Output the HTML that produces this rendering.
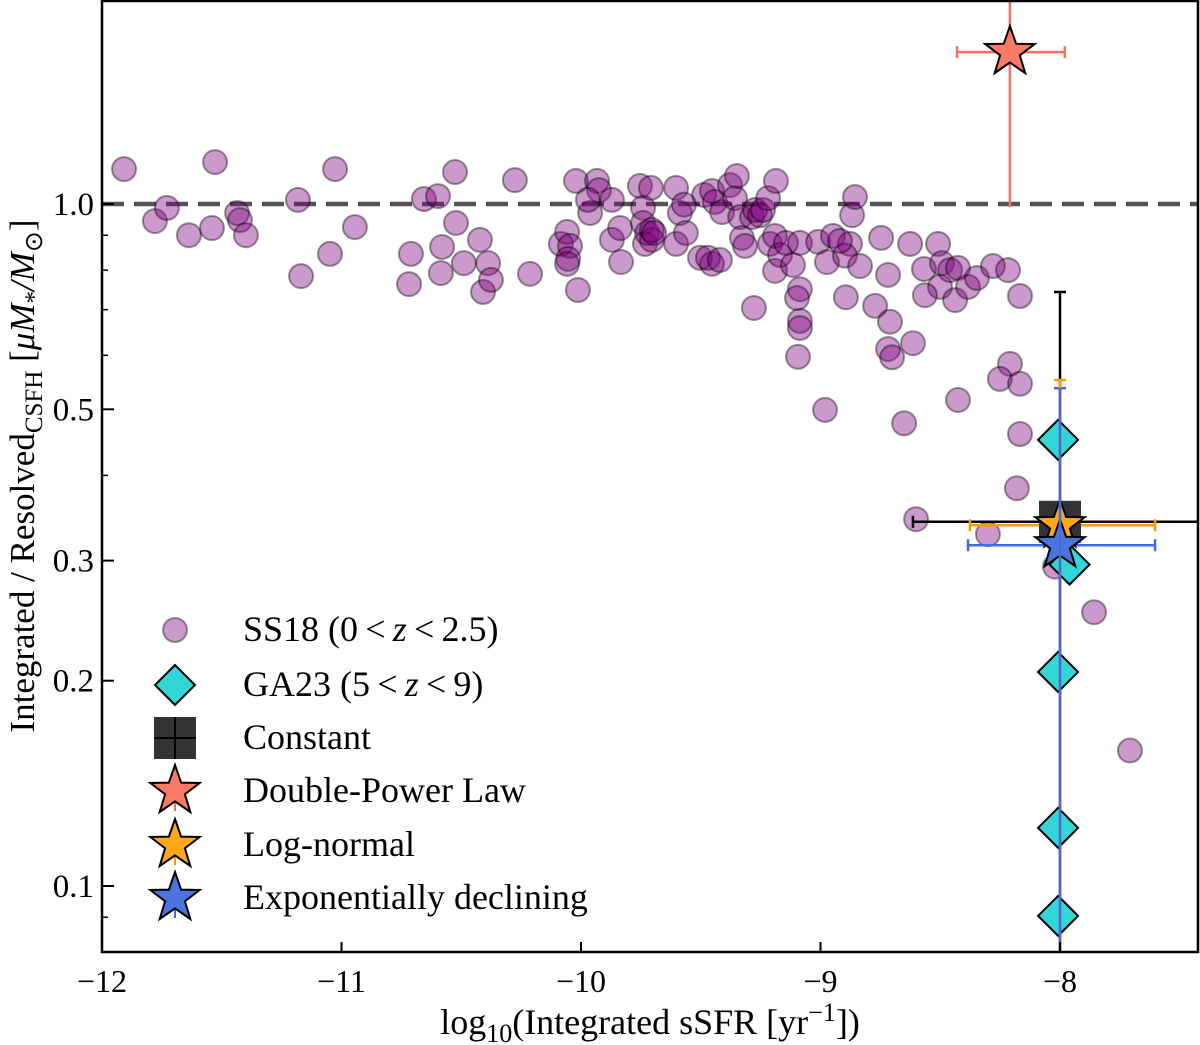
<!DOCTYPE html>
<html><head><meta charset="utf-8">
<style>
body{margin:0;background:#fff;}
svg{display:block;font-family:"Liberation Serif",serif;}
</style></head>
<body>
<svg id="chart" width="1200" height="1045" xmlns="http://www.w3.org/2000/svg"></svg>
<script>
const ss18X=[-11.908,-11.779,-11.729,-11.637,-11.528,-11.541,-11.436,-11.424,-11.399,-11.169,-11.182,-11.048,-11.027,-10.944,-10.718,-10.710,-10.656,-10.597,-10.580,-10.585,-10.522,-10.526,-10.489,-10.422,-10.388,-10.409,-10.376,-10.276,-10.213,-10.021,-10.013,-10.084,-10.058,-10.046,-10.054,-10.058,-9.962,-9.933,-9.925,-9.971,-9.871,-9.871,-9.837,-9.754,-9.741,-9.741,-9.733,-9.724,-9.833,-9.708,-9.704,-9.704,-9.695,-9.603,-9.603,-9.587,-9.570,-9.562,-9.503,-9.486,-9.453,-9.453,-9.470,-9.441,-9.411,-9.378,-9.357,-9.349,-9.336,-9.328,-9.315,-9.286,-9.278,-9.273,-9.253,-9.240,-9.219,-9.190,-9.186,-9.211,-9.190,-9.169,-9.144,-9.115,-9.086,-9.086,-9.098,-9.086,-9.086,-9.094,-9.010,-8.973,-8.948,-8.877,-8.898,-8.919,-8.894,-8.868,-8.856,-8.835,-8.772,-8.747,-8.718,-8.710,-8.718,-8.701,-8.626,-8.614,-8.651,-8.981,-8.568,-8.509,-8.493,-8.501,-8.459,-8.438,-8.426,-8.384,-8.347,-8.280,-8.217,-8.167,-8.209,-8.251,-8.167,-8.426,-8.167,-8.180,-8.601,-8.301,-8.021,-7.858,-7.708,-8.564,-9.420];
const ss18Y=[1.125,0.944,0.987,0.90,1.152,0.922,0.970,0.947,0.90,0.784,1.014,0.845,1.125,0.925,0.763,0.845,1.017,1.027,0.865,0.792,0.938,1.114,0.819,0.886,0.819,0.743,0.774,1.084,0.79,1.081,0.748,0.874,0.91,0.868,0.831,0.817,0.970,1.081,1.048,1.014,1.014,0.886,0.922,1.063,0.987,0.938,0.874,0.907,0.822,1.056,0.886,0.916,0.907,1.056,0.874,0.970,0.998,0.907,0.834,1.031,1.045,0.817,0.834,1.007,0.973,1.066,1.020,1.099,0.957,0.892,0.868,0.957,0.704,0.980,0.963,0.980,1.020,0.798,1.081,0.874,0.898,0.842,0.877,0.814,0.877,0.75,0.728,0.674,0.658,0.597,0.88,0.822,0.898,0.874,0.84,0.883,0.73,0.963,1.024,0.811,0.709,0.892,0.787,0.672,0.613,0.596,0.874,0.625,0.477,0.499,0.803,0.874,0.819,0.756,0.80,0.723,0.806,0.756,0.779,0.811,0.80,0.733,0.583,0.554,0.545,0.516,0.46,0.383,0.345,0.328,0.294,0.252,0.158,0.735,0.828];
const ga23X=[-8.008,-7.96,-8.008,-8.008,-8.008];
const ga23Y=[0.451,0.296,0.206,0.1217,0.0904];
const fitNames=["Constant","Double-Power Law","Log-normal","Exponentially declining"];
const fitX=[-8.0,-8.209,-8.0,-8.0];
const fitY=[0.342,1.67,0.338,0.316];
const fitXLo=[-8.614,-8.43,-8.376,-8.384];
const fitXHi=[-6.8,-7.98,-7.603,-7.603];
const fitYLo=[0.05,0.99,0.05,0.05];
const fitYHi=[0.743,2.5,0.552,0.537];
const xTicks=[-12,-11,-10,-9,-8];
const yTicks=[1.0,0.5,0.3,0.2,0.1];
const yTickLabels=["1.0","0.5","0.3","0.2","0.1"];
const yMinor=[0.09,0.4,0.6,0.7,0.8,0.9,2];

const L=102,R=1198,T=0,B=952;
const X=v=>102+(v+12)*239.5;
const Y=v=>204-Math.log10(v)*682;
const svg=document.getElementById('chart');
const NS="http://www.w3.org/2000/svg";
function mk(tag,attrs,parent){const e=document.createElementNS(NS,tag);for(const k in attrs)e.setAttribute(k,attrs[k]);(parent||svg).appendChild(e);return e;}
const defs=mk('defs',{});
const cp=mk('clipPath',{id:'clip'},defs);mk('rect',{x:L,y:T,width:R-L,height:B-T},cp);
const plot=mk('g',{'clip-path':'url(#clip)'});


const ref=mk('line',{x1:L,x2:R,y1:Y(1),y2:Y(1),stroke:'#555',"stroke-width":4.5,"stroke-dasharray":"22,10"},plot);


for(let i=0;i<ss18X.length;i++){
 const c=mk('circle',{cx:X(ss18X[i]),cy:Y(ss18Y[i]),r:12,fill:'rgba(128,0,128,0.4)',stroke:'rgba(0,0,0,0.4)','stroke-width':2},plot);
 
}
function starPath(cx,cy,ro){const ri=ro*0.4;let d='';for(let k=0;k<10;k++){const r=k%2?ri:ro;const a=-Math.PI/2+k*Math.PI/5;d+=(k?'L':'M')+(cx+r*Math.cos(a)).toFixed(1)+','+(cy+r*Math.sin(a)).toFixed(1);}return d+'Z';}
const fitColors=['#000','#fa6e5a','#ff9a00','#4169e1'];
const fitFill=['#333','#fa7a66','#ffa815','#4a74e0'];
const fitSlug=['constant','double-power-law','log-normal','exponentially-declining'];
function errbar(i,g){
 const col=fitColors[i],cx=X(fitX[i]),cy=Y(fitY[i]);
 const yl=Y(fitYLo[i]),yh=Y(fitYHi[i]),xl=X(fitXLo[i]),xh=X(fitXHi[i]);
 mk('line',{x1:cx,x2:cx,y1:yl,y2:yh,stroke:col,'stroke-width':2.5},g);
 mk('line',{x1:xl,x2:xh,y1:cy,y2:cy,stroke:col,'stroke-width':2.5},g);
 mk('line',{x1:cx-6,x2:cx+6,y1:yh,y2:yh,stroke:col,'stroke-width':2.5},g);
 mk('line',{x1:xl,x2:xl,y1:cy-6,y2:cy+6,stroke:col,'stroke-width':2.5},g);
 mk('line',{x1:xh,x2:xh,y1:cy-6,y2:cy+6,stroke:col,'stroke-width':2.5},g);
}
const errG=[];
for(let i=0;i<4;i++){const g=mk('g',{},plot);errG.push(g);}
errbar(0,errG[0]);errbar(1,errG[1]);
for(let i=0;i<ga23X.length;i++){
 const cx=X(ga23X[i]),cy=Y(ga23Y[i]),s=20;
 const d=mk('path',{d:`M${cx},${cy-s}L${cx+s},${cy}L${cx},${cy+s}L${cx-s},${cy}Z`,fill:'#33d6d6',stroke:'#000','stroke-width':2},plot);
 
}
errbar(2,errG[2]);errbar(3,errG[3]);
{const cx=X(fitX[0]),cy=Y(fitY[0]);const m=mk('rect',{x:cx-21,y:cy-21,width:42,height:42,fill:'#333'},plot);}
for(let i=1;i<4;i++){const m=mk('path',{d:starPath(X(fitX[i]),Y(fitY[i]),26),fill:fitFill[i],stroke:'#000','stroke-width':2},plot);}
mk('line',{x1:X(fitX[2]),x2:X(fitX[2]),y1:Y(fitYLo[2]),y2:Y(fitYHi[2]),stroke:fitColors[2],'stroke-width':2.5},plot);
mk('line',{x1:X(fitX[3]),x2:X(fitX[3]),y1:Y(fitYLo[3]),y2:Y(fitYHi[3]),stroke:fitColors[3],'stroke-width':2.5},plot);

const frame=mk('rect',{x:L,y:T+1,width:R-L,height:B-T-1,fill:'none',stroke:'#000','stroke-width':2.5});

const xa=mk('g',{});
xTicks.forEach(t=>{const x=X(t);mk('line',{x1:x,x2:x,y1:B,y2:B-10,stroke:'#000','stroke-width':2},xa);
 const tx=mk('text',{x:x,y:B+40,'font-size':32,'text-anchor':'middle'},xa);tx.textContent='\u2212'+Math.abs(t);
 });
const ya=mk('g',{});
yTicks.forEach((t,i)=>{const y=Y(t);mk('line',{x1:L,x2:L+12,y1:y,y2:y,stroke:'#000','stroke-width':2},ya);
 const tx=mk('text',{x:L-8,y:y+11,'font-size':33,'text-anchor':'end'},ya);tx.textContent=yTickLabels[i];
 });
yMinor.forEach(t=>{const y=Y(t);if(y>T&&y<B)mk('line',{x1:L,x2:L+6,y1:y,y2:y,stroke:'#000','stroke-width':1.5},ya);});
const xt=mk('text',{x:650,y:1034,'font-size':36,'text-anchor':'middle'});
xt.innerHTML='log<tspan font-size="26" dy="8">10</tspan><tspan dy="-8">(Integrated sSFR [yr</tspan><tspan font-size="26" dy="-13">\u22121</tspan><tspan dy="13">])</tspan>';

const yt=mk('text',{transform:'translate(34,476) rotate(-90)','font-size':35,'text-anchor':'middle'});
yt.innerHTML='Integrated / Resolved<tspan font-size="25" dy="8">CSFH</tspan><tspan dy="-8"> [</tspan><tspan font-style="italic">\u03bcM</tspan><tspan font-size="25" dy="8">*</tspan><tspan dy="-8" font-style="italic">/M</tspan><tspan font-size="25" dy="8">\u2299</tspan><tspan dy="-8">]</tspan>';


const lg=mk('g',{});
const rows=[630,685,738,791,845,898],lx=175;
const labels=['SS18 (0\u2009<\u2009<tspan font-style="italic">z</tspan>\u2009<\u20092.5)','GA23 (5\u2009<\u2009<tspan font-style="italic">z</tspan>\u2009<\u20099)'].concat(fitNames);
rows.forEach((ry,i)=>{
 const e=mk('g',{},lg);
 if(i==0)mk('circle',{cx:lx,cy:ry,r:12,fill:'rgba(128,0,128,0.4)',stroke:'rgba(0,0,0,0.4)','stroke-width':2},e);
 else if(i==1)mk('path',{d:`M${lx},${ry-20}L${lx+20},${ry}L${lx},${ry+20}L${lx-20},${ry}Z`,fill:'#33d6d6',stroke:'#000','stroke-width':2},e);
 else if(i==2){mk('rect',{x:lx-21,y:ry-21,width:42,height:42,fill:'#333'},e);mk('line',{x1:lx-21,x2:lx+21,y1:ry,y2:ry,stroke:'#000','stroke-width':2},e);mk('line',{x1:lx,x2:lx,y1:ry-21,y2:ry+21,stroke:'#000','stroke-width':2},e);}
 else{const k=i-2;mk('line',{x1:lx,x2:lx,y1:ry-20,y2:ry+20,stroke:fitColors[k],'stroke-width':2},e);mk('path',{d:starPath(lx,ry,26),fill:fitFill[k],stroke:'#000','stroke-width':2},e);}
 const t=mk('text',{x:243,y:ry+11,'font-size':36},e);t.innerHTML=labels[i];
});
</script>
</body></html>
